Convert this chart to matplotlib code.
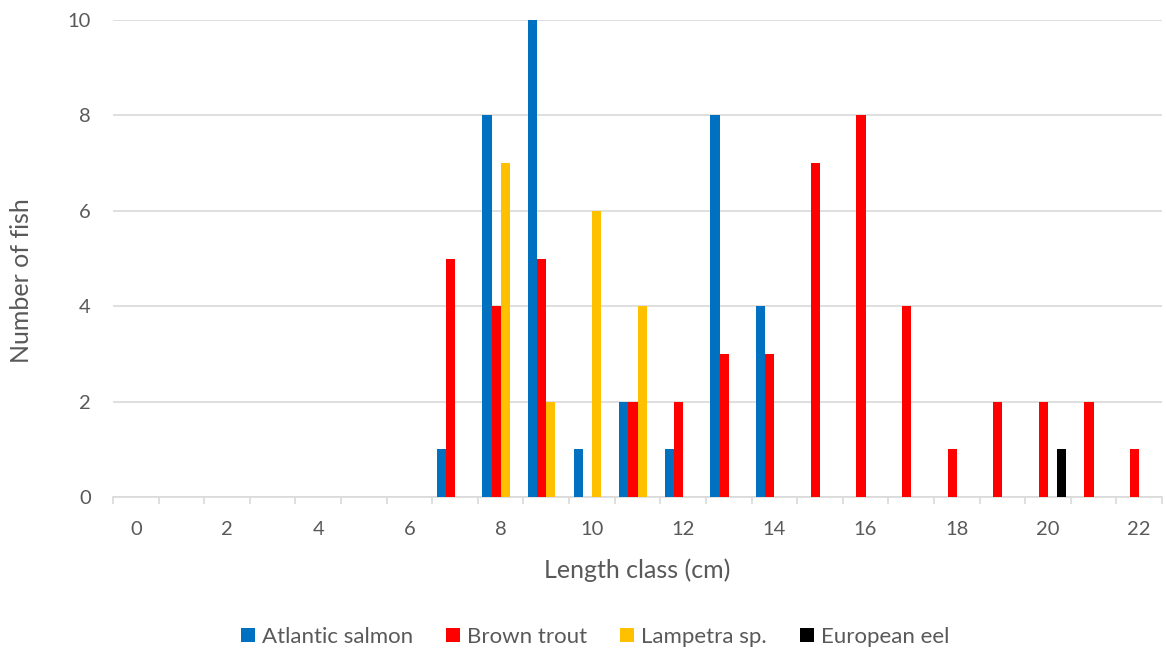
import numpy as np
import matplotlib.pyplot as plt

# length classes (cm) and counts per species
length_classes = list(range(0, 23))
atlantic_salmon = [0, 0, 0, 0, 0, 0, 0, 1, 8, 10, 1, 2, 1, 8, 4, 0, 0, 0, 0, 0, 0, 0, 0]
brown_trout = [0, 0, 0, 0, 0, 0, 0, 5, 4, 5, 0, 2, 2, 3, 3, 7, 8, 4, 1, 2, 2, 2, 1]
lampetra = [0, 0, 0, 0, 0, 0, 0, 0, 7, 2, 6, 4, 0, 0, 0, 0, 0, 0, 0, 0, 0, 0, 0]
european_eel = [0, 0, 0, 0, 0, 0, 0, 0, 0, 0, 0, 0, 0, 0, 0, 0, 0, 0, 0, 0, 1, 0, 0]

series = [
    ("Atlantic salmon", atlantic_salmon, "#0070C0"),
    ("Brown trout", brown_trout, "#FF0000"),
    ("Lampetra sp.", lampetra, "#FFC000"),
    ("European eel", european_eel, "#000000"),
]

plt.rcParams['font.family'] = ['Lato', 'DejaVu Sans']
text_col = "#595959"

fig = plt.figure(figsize=(11.66, 6.51), dpi=100)
ax = fig.add_axes([113 / 1166, 1 - 497 / 651, (1162 - 113) / 1166, (497 - 20) / 651])

x = np.arange(len(length_classes))
w = 0.8 / len(series)
for i, (name, vals, col) in enumerate(series):
    ax.bar(x + (i - 1.5) * w, vals, width=w, color=col, label=name, zorder=3)

ax.set_xlim(-0.5, len(length_classes) - 0.5)
ax.set_ylim(0, 10)
ax.set_yticks(range(0, 11, 2))
ax.set_xticks(x[::2])
ax.set_xticklabels([str(v) for v in length_classes[::2]])
ax.set_xticks(np.arange(-0.5, len(length_classes), 1), minor=True)
ax.tick_params(axis='x', which='major', length=0, pad=17, labelsize=14.5, labelcolor=text_col)
ax.tick_params(axis='x', which='minor', length=5, color="#d9d9d9", width=1.2)
ax.tick_params(axis='y', length=0, pad=16, labelsize=14.5, labelcolor=text_col)

ax.grid(axis='y', color="#d9d9d9", linewidth=1.2, zorder=0)
for s in ['top', 'right', 'left']:
    ax.spines[s].set_visible(False)
ax.spines['bottom'].set_color("#d9d9d9")
ax.spines['bottom'].set_linewidth(1.2)

ax.set_xlabel("Length class (cm)", fontsize=18, color=text_col, labelpad=15)
ax.set_ylabel("Number of fish", fontsize=18, color=text_col, va='center')
ax.yaxis.set_label_coords(-0.087, 0.453)

fig.legend(loc='center', bbox_to_anchor=(595 / 1166, 1 - 637 / 651), ncol=4, frameon=False,
           fontsize=16, labelcolor=text_col, handlelength=0.63, handleheight=0.63,
           handletextpad=0.3, columnspacing=1.5)

fig.savefig("out.png", dpi=100)
